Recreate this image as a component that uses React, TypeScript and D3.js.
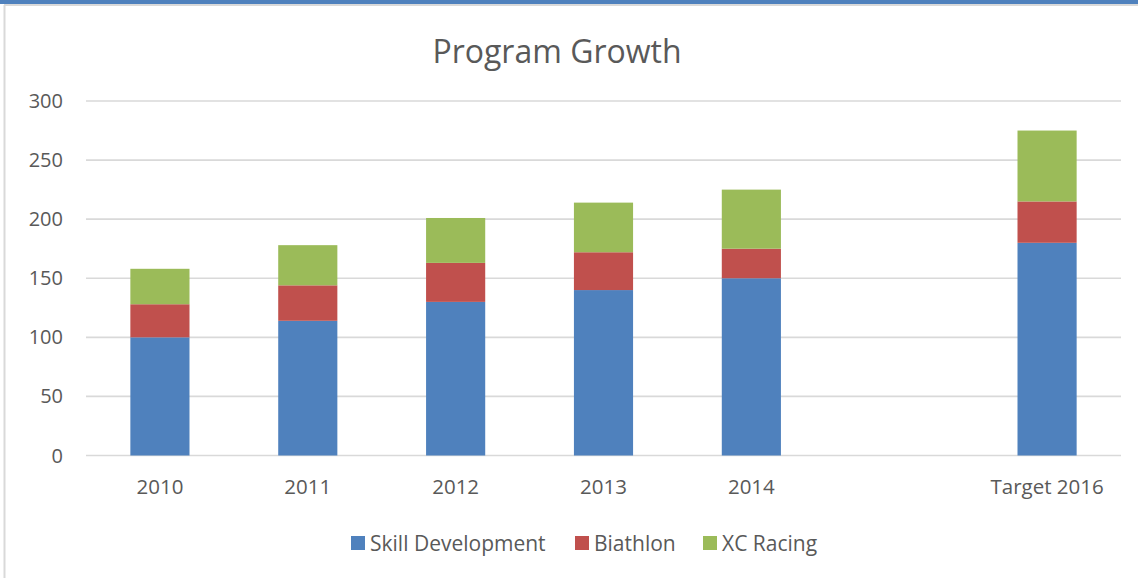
import React from "react";
import * as d3 from "d3";

const categories = ["2010", "2011", "2012", "2013", "2014", "", "Target 2016"];
const skillDevelopment = [100, 114, 130, 140, 150, null, 180];
const biathlon = [28, 30, 33, 32, 25, null, 35];
const xcRacing = [30, 34, 38, 42, 50, null, 60];
const yTicks = [0, 50, 100, 150, 200, 250, 300];
const seriesNames = ["Skill Development", "Biathlon", "XC Racing"];
const seriesColors = ["#4f81bd", "#c0504d", "#9bbb59"];

const W = 1138, H = 578;
const FONT = "'Open Sans', 'DejaVu Sans', sans-serif";

export default function App() {
  const x = d3.scaleBand().domain(categories.map((c, i) => String(i))).range([86, 1121]).paddingInner(0.6).paddingOuter(0.3);
  const y = d3.scaleLinear().domain([0, 300]).range([455.5, 101]);
  const rows = categories.map((c, i) => ({
    key: String(i),
    s0: skillDevelopment[i] ?? 0,
    s1: biathlon[i] ?? 0,
    s2: xcRacing[i] ?? 0,
  }));
  const stack = d3.stack<any>().keys(["s0", "s1", "s2"])(rows);

  const legendItems = [
    { x: 351, tx: 370 },
    { x: 575, tx: 594 },
    { x: 703, tx: 722 },
  ];

  return (
    <svg width={W} height={H} style={{ position: "absolute", left: 0, top: 0, background: "#fff" }} fontFamily={FONT}>
      <rect x={0} y={0} width={W} height={4} fill="#4f81bd" />
      <line x1={4} x2={W} y1={5} y2={5} stroke="#d9d9d9" strokeWidth={2} />
      <line x1={4.5} x2={4.5} y1={5} y2={H} stroke="#d9d9d9" strokeWidth={2} />
      <text x={557} y={63} textAnchor="middle" fontSize={32} fill="#595959">Program Growth</text>
      {yTicks.map((t) => (
        <g key={t}>
          <line x1={86} x2={1121} y1={y(t)} y2={y(t)} stroke="#d9d9d9" strokeWidth={1.6} />
          <text x={63} y={y(t) + 7} textAnchor="end" fontSize={20} fill="#595959">{t}</text>
        </g>
      ))}
      {stack.map((layer, si) => (
        <g key={si} fill={seriesColors[si]}>
          {layer.map((d: any, i: number) =>
            d[1] - d[0] > 0 ? (
              <rect key={i} x={x(String(i))} width={x.bandwidth()} y={y(d[1])} height={y(d[0]) - y(d[1])} />
            ) : null
          )}
        </g>
      ))}
      {categories.map((c, i) => (
        <text key={i} x={(x(String(i)) as number) + x.bandwidth() / 2} y={494} textAnchor="middle" fontSize={20.5} fill="#595959">{c}</text>
      ))}
      {seriesNames.map((n, i) => (
        <g key={n}>
          <rect x={legendItems[i].x} y={536} width={14} height={14} fill={seriesColors[i]} />
          <text x={legendItems[i].tx} y={550.5} fontSize={21} fill="#595959">{n}</text>
        </g>
      ))}
    </svg>
  );
}
